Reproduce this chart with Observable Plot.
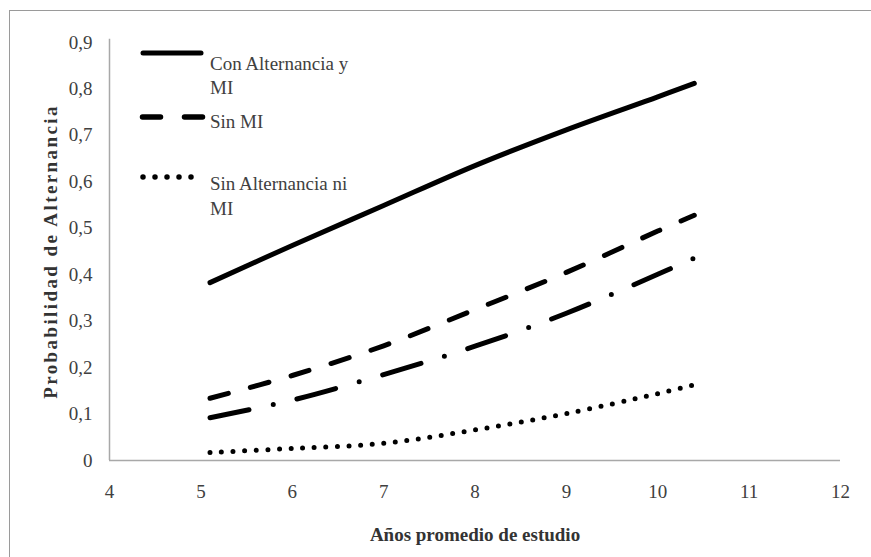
<!DOCTYPE html>
<html>
<head>
<meta charset="utf-8">
<script src="https://cdn.jsdelivr.net/npm/d3@7"></script>
<script src="https://cdn.jsdelivr.net/npm/@observablehq/plot@0.6"></script>
<style>
  html, body { margin: 0; padding: 0; background: #fff; }
  #wrap { position: relative; width: 871px; height: 557px; overflow: hidden; background: #fff; }
  #border { position: absolute; left: 9px; top: 10px; width: 900px; height: 600px;
            border-top: 1.5px solid #9a9a9a; border-left: 1.5px solid #9a9a9a; box-sizing: border-box; }
  #chart { position: absolute; left: 0; top: 0; }
  #legend { position: absolute; left: 0; top: 0; }
</style>
</head>
<body>
<div id="wrap">
  <div id="border"></div>
  <div id="chart"></div>
  <svg id="legend" width="871" height="557"></svg>
</div>
<script>
// ---- data ----
const years = [5.1, 6, 7, 8, 9, 10, 10.4];
const conAlternanciaYMI = [0.383, 0.463, 0.549, 0.635, 0.712, 0.783, 0.812];
const sinMI = [0.134, 0.183, 0.247, 0.325, 0.405, 0.494, 0.528];
const serieTrazoPunto = [0.092, 0.130, 0.185, 0.246, 0.317, 0.401, 0.436];
const sinAlternanciaNiMI = [0.017, 0.026, 0.037, 0.066, 0.101, 0.144, 0.163];

const xTicks = [4, 5, 6, 7, 8, 9, 10, 11, 12];
const yTicks = [0, 0.1, 0.2, 0.3, 0.4, 0.5, 0.6, 0.7, 0.8, 0.9];
const xTitle = "Años promedio de estudio";
const yTitle = "Probabilidad de Alternancia";
const legendLabels = [["Con Alternancia y", "MI"], ["Sin MI"], ["Sin Alternancia ni", "MI"]];

// ---- tables ----
const toRows = (vals) => years.map((x, i) => ({x, y: vals[i]}));
const series = [
  {rows: toRows(conAlternanciaYMI), dash: null},
  {rows: toRows(sinMI), dash: "19,23"},
  {rows: toRows(serieTrazoPunto), dash: "40,24.5,0,24.5"},
  {rows: toRows(sinAlternanciaNiMI), dash: "0,11.6"}
];

const FONT = "'Liberation Serif', Tinos, 'DejaVu Serif', serif";
const fmt = d => d === 0 ? "0" : d.toFixed(1).replace(".", ",");

const chart = Plot.plot({
  width: 871,
  height: 557,
  marginLeft: 109,
  marginRight: 31,
  marginTop: 42,
  marginBottom: 97,
  style: {fontFamily: FONT, fontSize: "19px", color: "#404040", background: "transparent"},
  x: {domain: [4, 12]},
  y: {domain: [0, 0.9]},
  marks: [
    Plot.ruleY([0], {x1: 4, x2: 12, stroke: "#a8a8a8", strokeWidth: 1.5}),
    Plot.ruleX([4], {y1: 0, y2: 0.907, stroke: "#a8a8a8", strokeWidth: 1.5}),
    Plot.axisX({ticks: xTicks, tickSize: 0, tickPadding: 24, tickFormat: d => String(d), label: null}),
    Plot.axisY({ticks: yTicks, tickSize: 0, tickPadding: 17, tickFormat: fmt, label: null}),
    ...series.map(s => Plot.line(s.rows, {
      x: "x", y: "y", stroke: "#000", strokeWidth: 5,
      strokeLinecap: "round", strokeLinejoin: "round",
      strokeDasharray: s.dash, curve: "catmull-rom"
    })),
    Plot.text([xTitle], {frameAnchor: "bottom", dy: 74, lineAnchor: "middle", textAnchor: "middle",
      fontWeight: "bold", fontSize: 19, fill: "#333"}),
    Plot.text([yTitle], {frameAnchor: "left", dx: -59, rotate: -90, lineAnchor: "middle", textAnchor: "middle",
      fontWeight: "bold", fontSize: 19, fill: "#333"})
  ]
});
document.getElementById("chart").appendChild(chart);

// letter spacing on the y title
d3.select(chart).selectAll("text").filter(function() { return this.textContent === yTitle; })
  .attr("letter-spacing", "2.4px");

// ---- legend inside plot area (top-left) ----
const lg = d3.select("#legend");
const samples = [
  {y: 53, dash: null, x1: 143, x2: 201, w: 5},
  {y: 117, dash: "18,24", x1: 142.5, x2: 202.5, w: 5.5},
  {y: 177, dash: "0,12", x1: 143, x2: 203, w: 5.5}
];
const textLines = [[70, 94], [128], [190, 215]];
samples.forEach((s, i) => {
  lg.append("line").attr("x1", s.x1).attr("x2", s.x2).attr("y1", s.y).attr("y2", s.y)
    .attr("stroke", "#000").attr("stroke-width", s.w).attr("stroke-linecap", "round")
    .attr("stroke-dasharray", s.dash);
  legendLabels[i].forEach((t, j) => {
    lg.append("text").attr("x", 210).attr("y", textLines[i][j]).text(t)
      .attr("font-family", FONT)
      .attr("font-size", 19).attr("fill", "#404040");
  });
});
</script>
</body>
</html>
